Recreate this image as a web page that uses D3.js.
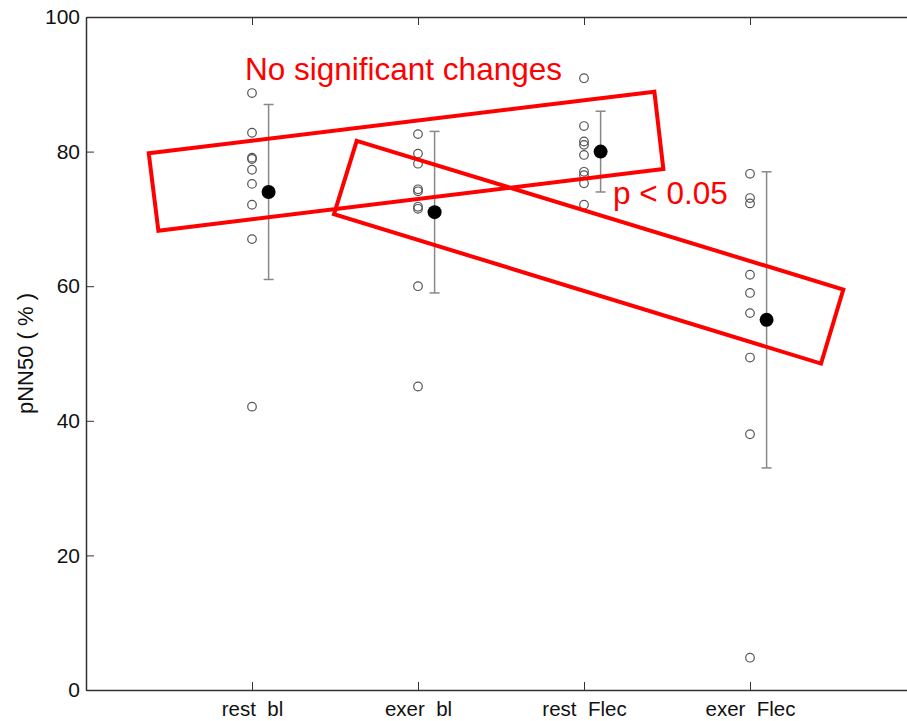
<!DOCTYPE html>
<html>
<head>
<meta charset="utf-8">
<script src="https://cdn.jsdelivr.net/npm/d3@7"></script>
<style>
  body { margin: 0; background: #fff; }
  svg { display: block; font-family: "Liberation Sans", Arial, sans-serif; }
</style>
</head>
<body>
<svg id="chart" width="907" height="721"></svg>
<script>
// categories and per-subject values (pNN50, %)
const categories = ['rest  bl', 'exer  bl', 'rest  Flec', 'exer  Flec'];
const subjectValues = [
  [88.7, 82.8, 79.1, 78.9, 77.3, 75.2, 72.1, 67.0, 42.1],
  [82.6, 79.7, 78.2, 74.4, 74.1, 71.8, 71.5, 60.0, 45.1],
  [90.9, 83.8, 81.5, 81.0, 79.5, 77.0, 76.5, 75.3, 72.1],
  [76.7, 73.1, 72.3, 61.7, 59.0, 56.0, 49.4, 38.0, 4.8]
];
const means = [74, 71, 80, 55];
const sds = [13, 12, 6, 22];
const yTicks = [0, 20, 40, 60, 80, 100];

// annotation boxes, corners in data units [x position, pNN50]
const boxNoChange = [[0.378, 79.75], [3.424, 88.9], [3.478, 77.4], [0.436, 68.25]];
const boxSignificant = [[1.631, 81.6], [4.562, 59.5], [4.428, 48.5], [1.494, 70.7]];
const notes = [
  { text: 'No significant changes', x: 0.958, y: 90.6 },
  { text: 'p < 0.05', x: 3.175, y: 72.2 }
];

const AXIS_COLOR = '#333';
const BAR_COLOR = '#888';
const RED = '#ff0000';

const svg = d3.select('#chart');

const x = d3.scaleLinear().domain([0, 5]).range([86, 916]);
const y = d3.scaleLinear().domain([0, 100]).range([690, 17]);

// frame axes (MATLAB-style box, ticks inward)
const styleAxis = (size) => (g) => {
  g.selectAll('path.domain').attr('stroke', AXIS_COLOR).attr('stroke-width', 1.5);
  g.selectAll('.tick line').attr('stroke', AXIS_COLOR).attr('stroke-width', 1);
  g.selectAll('.tick text')
    .attr('fill', '#111')
    .style('font-size', size + 'px')
    .style('white-space', 'pre');
};

svg.append('g')
  .attr('transform', `translate(${x(0)},0)`)
  .call(d3.axisLeft(y).tickValues(yTicks).tickSize(-8).tickSizeOuter(0).tickPadding(6))
  .call(styleAxis(21));

svg.append('g')
  .attr('transform', `translate(${x(5)},0)`)
  .call(d3.axisRight(y).tickValues(yTicks).tickSize(-8).tickSizeOuter(0).tickFormat(''))
  .call(styleAxis(21));

svg.append('g')
  .attr('transform', `translate(0,${y(0)})`)
  .call(d3.axisBottom(x).tickValues([1, 2, 3, 4]).tickSize(-8).tickSizeOuter(0)
    .tickPadding(11).tickFormat((d) => categories[d - 1]))
  .call(styleAxis(20.5));

svg.append('g')
  .attr('transform', `translate(0,${y(100)})`)
  .call(d3.axisTop(x).tickValues([1, 2, 3, 4]).tickSize(-8).tickSizeOuter(0).tickFormat(''))
  .call(styleAxis(21));

// y label
svg.append('text')
  .attr('transform', `translate(33,${y(50)}) rotate(-90)`)
  .attr('text-anchor', 'middle')
  .style('font-size', '22px')
  .style('white-space', 'pre')
  .attr('fill', '#111')
  .text('pNN50 ( % )');

// individual subjects
const pts = subjectValues.flatMap((vals, i) => vals.map((v) => ({ pos: i + 1, v })));
svg.append('g')
  .selectAll('circle')
  .data(pts)
  .join('circle')
  .attr('cx', (d) => x(d.pos))
  .attr('cy', (d) => y(d.v))
  .attr('r', 4.3)
  .attr('fill', 'none')
  .attr('stroke', '#555')
  .attr('stroke-width', 1.2);

// mean +/- sd
const summary = means.map((m, i) => ({ pos: i + 1.1, m, sd: sds[i] }));
const bars = svg.append('g').selectAll('g').data(summary).join('g');
bars.append('line')
  .attr('x1', (d) => x(d.pos)).attr('x2', (d) => x(d.pos))
  .attr('y1', (d) => y(d.m + d.sd)).attr('y2', (d) => y(d.m - d.sd))
  .attr('stroke', BAR_COLOR).attr('stroke-width', 1.5);
bars.selectAll('line.cap')
  .data((d) => [{ pos: d.pos, v: d.m + d.sd }, { pos: d.pos, v: d.m - d.sd }])
  .join('line')
  .attr('class', 'cap')
  .attr('x1', (d) => x(d.pos) - 5).attr('x2', (d) => x(d.pos) + 5)
  .attr('y1', (d) => y(d.v)).attr('y2', (d) => y(d.v))
  .attr('stroke', BAR_COLOR).attr('stroke-width', 1.5);
bars.append('circle')
  .attr('cx', (d) => x(d.pos))
  .attr('cy', (d) => y(d.m))
  .attr('r', 7)
  .attr('fill', '#000');

// red annotation boxes and text
const boxLine = d3.line().x((p) => x(p[0])).y((p) => y(p[1])).curve(d3.curveLinearClosed);
svg.append('g')
  .selectAll('path')
  .data([boxNoChange, boxSignificant])
  .join('path')
  .attr('d', boxLine)
  .attr('fill', 'none')
  .attr('stroke', RED)
  .attr('stroke-width', 4)
  .attr('stroke-linejoin', 'miter');

svg.append('g')
  .selectAll('text')
  .data(notes)
  .join('text')
  .attr('x', (d) => x(d.x))
  .attr('y', (d) => y(d.y))
  .attr('fill', RED)
  .style('font-size', '31.5px')
  .text((d) => d.text);
</script>
</body>
</html>
